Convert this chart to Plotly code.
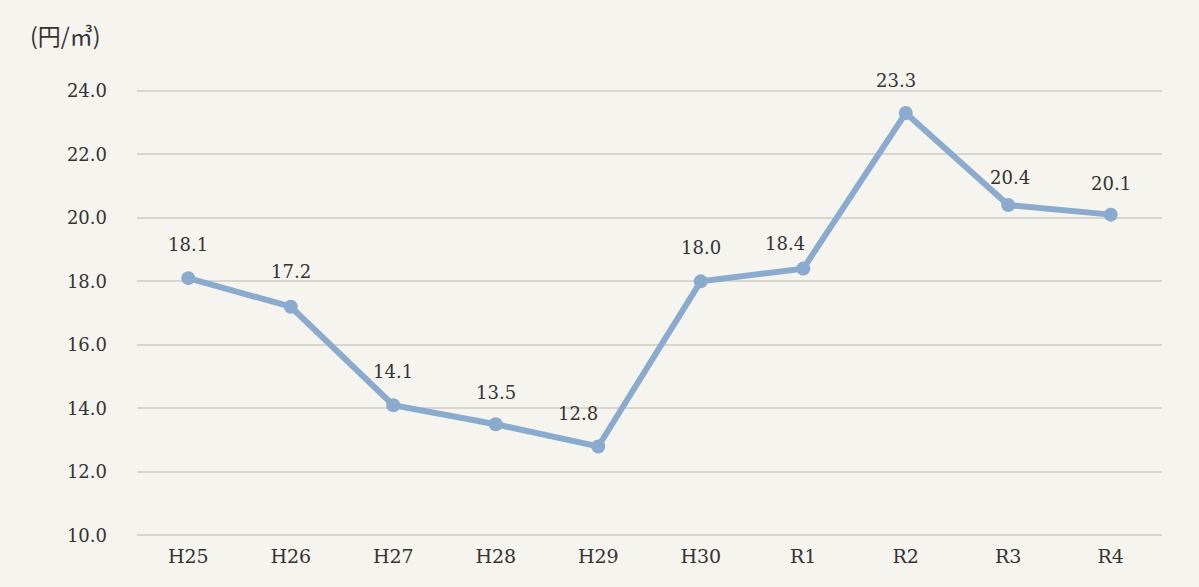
import plotly.graph_objects as go

categories = ["H25", "H26", "H27", "H28", "H29", "H30", "R1", "R2", "R3", "R4"]
values = [18.1, 17.2, 14.1, 13.5, 12.8, 18.0, 18.4, 23.3, 20.4, 20.1]
y_ticks = [10, 12, 14, 16, 18, 20, 22, 24]
y_title = "(円/㎥)"

# label placement tweaks (pixels), styling only
label_dx = [0, 0, 0, 0, -20, 0, -18, -10, 2, 0]
label_dy = [34, 35, 34, 32, 33, 34, 25, 32, 28, 31]

bg_color = "#f6f4ee"
line_color = "#8aabce"
text_color = "#333333"
serif = "DejaVu Serif, Liberation Serif, serif"

fig = go.Figure()
fig.add_trace(go.Scatter(
    x=categories, y=values, mode="lines+markers",
    line=dict(color=line_color, width=6),
    marker=dict(color=line_color, size=14),
    hoverinfo="skip", showlegend=False,
))

for c, v, dx, dy in zip(categories, values, label_dx, label_dy):
    fig.add_annotation(x=c, y=v, text=f"{v:.1f}", showarrow=False,
                       xshift=dx, yshift=dy,
                       font=dict(family=serif, size=18, color=text_color))

fig.add_annotation(xref="paper", yref="paper", x=-0.106, y=1.0, yshift=5,
                   xanchor="left", yanchor="bottom", text=y_title, showarrow=False,
                   font=dict(family="Noto Sans CJK JP, serif", size=23, color=text_color))

fig.update_layout(
    width=1191, height=579,
    margin=dict(l=129, r=37, t=51, b=50),
    paper_bgcolor=bg_color, plot_bgcolor=bg_color,
    font=dict(family=serif, size=17, color=text_color),
)
fig.update_xaxes(range=[-0.5, len(categories) - 0.5], automargin=False,
                 showgrid=False, zeroline=False, showline=False, ticks="",
                 ticklabelstandoff=6, tickfont=dict(family=serif, size=19, color=text_color))
fig.update_yaxes(range=[9.95, 25], tickvals=y_ticks, automargin=False,
                 ticktext=[f"{t:.1f}" for t in y_ticks],
                 showgrid=True, gridcolor="#d9d6cf", gridwidth=1.5,
                 zeroline=False, showline=False, ticks="",
                 ticklabelstandoff=29, tickfont=dict(family=serif, size=18, color=text_color))

fig.write_html("out.html", post_script=f"document.body.style.background='{bg_color}';")
